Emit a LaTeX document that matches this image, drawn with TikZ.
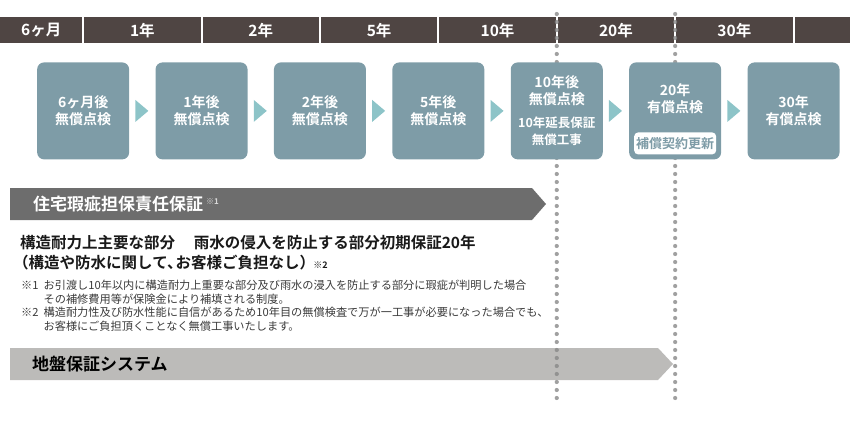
\documentclass[tikz,border=0pt]{standalone}
\usepackage{fontspec}
\setmainfont{Noto Sans CJK JP}[BoldFont={Noto Sans CJK JP Bold}]
\usetikzlibrary{positioning,calc}

\definecolor{hdrc}{HTML}{4F4543}
\definecolor{boxc}{HTML}{7E9CA7}
\definecolor{tric}{HTML}{8DC4C8}
\definecolor{banda}{HTML}{6D6D6D}
\definecolor{bandb}{HTML}{BCBBB9}
\definecolor{dotc}{HTML}{888888}
\definecolor{notec}{HTML}{3A3A3A}

\tikzset{
  hdr/.style={fill=hdrc, text=white, font=\bfseries\fontsize{15.5}{15.5}\selectfont,
    minimum width=116.5pt, minimum height=26pt, inner sep=0pt, anchor=north west},
  chk/.style={fill=boxc, rounded corners=7pt, minimum width=92pt, minimum height=97pt,
    inner sep=0pt, text=white, align=center, font=\bfseries\fontsize{14}{17}\selectfont},
  pill/.style={fill=white, rounded corners=4pt, minimum width=82pt, minimum height=22pt,
    inner sep=0pt, text=boxc, font=\bfseries\fontsize{13}{13}\selectfont},
  tri/.style={fill=tric},
  dotl/.style={draw=dotc, draw opacity=0.8, line width=4.2pt, line cap=round,
    dash pattern=on 0pt off 8pt},
  bandtxt/.style={anchor=west, inner sep=0pt, font=\bfseries\fontsize{17}{17}\selectfont}
}

\begin{document}
\begin{tikzpicture}[x=1pt, y=-1pt]
\useasboundingbox (0,0) rectangle (850,420);

% 年数ヘッダー
\node[hdr, minimum width=82pt] (h1) at (0,17) {6ヶ月};
\node[hdr, right=1.5pt of h1] (h2) {1年};
\node[hdr, right=1.5pt of h2] (h3) {2年};
\node[hdr, right=1.5pt of h3] (h4) {5年};
\node[hdr, right=1.5pt of h4] (h5) {10年};
\node[hdr, right=1.5pt of h5] (h6) {20年};
\node[hdr, right=1.5pt of h6] (h7) {30年};
\node[hdr, right=1.5pt of h7, minimum width=58.5pt] (h8) {};

% 帯
\fill[banda] (10,188) -- (532,188) -- (546,204) -- (532,220) -- (10,220) -- cycle;
\node[bandtxt, text=white] (g1) at (33,204) {住宅瑕疵担保責任保証\,\raisebox{6pt}{\color{white!85!black}\fontsize{8}{8}\selectfont ※1}};
\fill[bandb] (10,348) -- (658,348) -- (673,364) -- (658,380) -- (10,380) -- cycle;
\node[bandtxt, text=black] (g2) at (32,364) {地盤保証システム};

% 点線
\coordinate (top) at (0,14);
\coordinate (bot) at (0,398);
\coordinate (d1) at ($(h5.east)!.5!(h6.west)$);
\coordinate (d2) at ($(h6.east)!.5!(h7.west)$);
\draw[dotl] (d1 |- top) -- (d1 |- bot);
\draw[dotl] (d2 |- top) -- (d2 |- bot);

% 点検ボックス
\node[chk] (b1) at ($(h1.south east)!.5!(h2.south west)+(0,67.5)$) {6ヶ月後\\無償点検};
\node[chk, right=26pt of b1] (b2) {1年後\\無償点検};
\node[chk, right=26pt of b2] (b3) {2年後\\無償点検};
\node[chk, right=26pt of b3] (b4) {5年後\\無償点検};
\node[chk, right=26pt of b4] (b5) {10年後\\無償点検\\[6pt]{\fontsize{12.5}{18}\selectfont 10年延長保証}\\{\fontsize{12.5}{18}\selectfont 無償工事}};
\node[chk, right=26pt of b5] (b6) {};
\node[chk, right=26pt of b6] (b7) {30年\\有償点検};
\node[text=white, align=center, font=\bfseries\fontsize{14}{17}\selectfont] (b6t) at ($(b6)+(0,-12)$) {20年\\有償点検};
\node[pill, above=5pt of b6.south] (p6) {補償契約更新};

% 矢印
\fill[tri] ($(b1.east)+(6,-11)$) -- ($(b1.east)+(19,0)$) -- ($(b1.east)+(6,11)$) -- cycle;
\fill[tri] ($(b2.east)+(6,-11)$) -- ($(b2.east)+(19,0)$) -- ($(b2.east)+(6,11)$) -- cycle;
\fill[tri] ($(b3.east)+(6,-11)$) -- ($(b3.east)+(19,0)$) -- ($(b3.east)+(6,11)$) -- cycle;
\fill[tri] ($(b4.east)+(6,-11)$) -- ($(b4.east)+(19,0)$) -- ($(b4.east)+(6,11)$) -- cycle;
\fill[tri] ($(b5.east)+(6,-11)$) -- ($(b5.east)+(19,0)$) -- ($(b5.east)+(6,11)$) -- cycle;
\fill[tri] ($(b6.east)+(6,-11)$) -- ($(b6.east)+(19,0)$) -- ($(b6.east)+(6,11)$) -- cycle;

% 説明文
\node[anchor=west, align=left, inner sep=0pt, text=black!90,
  font=\bfseries\fontsize{15.5}{20}\selectfont] (lead) at (20,253)
  {構造耐力上主要な部分\hspace{1.2em}雨水の侵入を防止する部分初期保証20年\\\hspace{-0.45em}（構造や防水に関して、\hspace{-0.45em}お客様ご負担なし）\hspace{-0.1em}{\fontsize{9}{9}\selectfont ※2}};
\node[anchor=north west, inner sep=0pt, text=notec,
  font=\fontsize{11.2}{13.5}\selectfont] (note) at (21,280) {%
  \begin{tabular}{@{}l@{\hspace{5pt}}l@{}}
  ※1 & お引渡し10年以内に構造耐力上重要な部分及び雨水の浸入を防止する部分に瑕疵が判明した場合\\
     & その補修費用等が保険金により補填される制度。\\
  ※2 & 構造耐力性及び防水性能に自信があるため10年目の無償検査で万が一工事が必要になった場合でも、\\
     & お客様にご負担頂くことなく無償工事いたします。
  \end{tabular}};
\end{tikzpicture}
\end{document}
